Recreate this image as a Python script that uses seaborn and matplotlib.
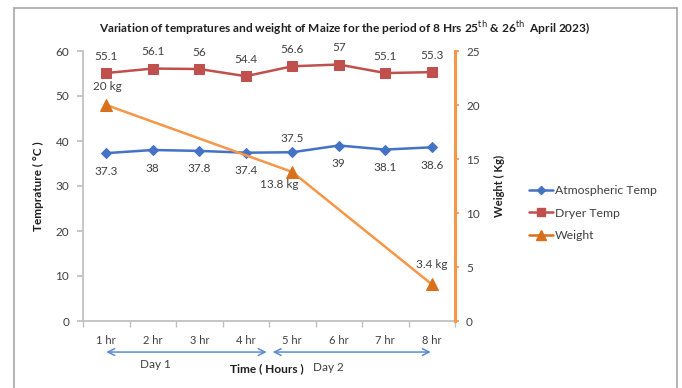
import numpy as np
import pandas as pd
import seaborn as sns
import matplotlib
matplotlib.use("Agg")
import matplotlib.pyplot as plt
from matplotlib.lines import Line2D
import matplotlib.transforms as mtransforms

# ---- data ----
hours = ["1 hr", "2 hr", "3 hr", "4 hr", "5 hr", "6 hr", "7 hr", "8 hr"]
atmospheric_temp = [37.3, 38, 37.8, 37.4, 37.5, 39, 38.1, 38.6]
dryer_temp = [55.1, 56.1, 56, 54.4, 56.6, 57, 55.1, 55.3]
weight = [20, np.nan, np.nan, np.nan, 13.8, np.nan, np.nan, 3.4]
weight_labels = ["20 kg", "", "", "", "13.8 kg", "", "", "3.4 kg"]
left_ticks = [0, 10, 20, 30, 40, 50, 60]
right_ticks = [0, 5, 10, 15, 20, 25]

sns.set_theme(style="white")
plt.rcParams["font.family"] = ["Lato", "DejaVu Sans"]

C_BLUE = "#4472C4"
C_RED = "#C0504D"
C_ORANGE = "#F79646"
C_ORANGE_D = "#D9711C"
C_TXT = "#404040"
FS = 8.5

fig = plt.figure(figsize=(6.82, 3.88), dpi=100)
ax = fig.add_axes([83 / 682, 1 - 321 / 388, (455 - 83) / 682, (321 - 51) / 388])
ax2 = ax.twinx()

pos = np.arange(len(hours))
df = pd.DataFrame({"pos": pos, "atm": atmospheric_temp, "dry": dryer_temp, "w": weight})

sns.lineplot(data=df, x="pos", y="atm", ax=ax, color=C_BLUE, marker="D", markersize=5,
             markeredgecolor=C_BLUE, linewidth=1.8)
sns.lineplot(data=df, x="pos", y="dry", ax=ax, color=C_RED, marker="s", markersize=7,
             markeredgecolor=C_RED, linewidth=1.8)
sns.lineplot(data=df.dropna(), x="pos", y="w", ax=ax2, color=C_ORANGE, marker="^",
             markersize=8, markerfacecolor=C_ORANGE_D, markeredgecolor=C_ORANGE_D, linewidth=1.8)

ax.set_xlim(-0.5, len(hours) - 0.5)
ax.set_ylim(0, 60)
ax2.set_ylim(0, 25)
ax.set_yticks(left_ticks)
ax2.set_yticks(right_ticks)
ax.set_xticks(pos)
ax.set_xticklabels(hours)
ax.set_xticks(np.arange(len(hours) + 1) - 0.5, minor=True)

for a in (ax, ax2):
    a.set_xlabel("")
    a.set_ylabel("")
    a.spines["top"].set_visible(False)
    a.grid(False)

ax.spines["left"].set_color("#BFBFBF")
ax.spines["bottom"].set_color("#BFBFBF")
ax.spines["right"].set_visible(False)
ax2.spines["left"].set_visible(False)
ax2.spines["bottom"].set_visible(False)
ax2.spines["right"].set_color(C_ORANGE)
ax2.spines["right"].set_linewidth(2.2)

ax.tick_params(axis="y", which="major", left=True, length=4, color="#BFBFBF",
               labelsize=FS, labelcolor=C_TXT, pad=6)
ax.tick_params(axis="x", which="major", bottom=False, length=0, labelsize=FS - 0.5,
               labelcolor=C_TXT, pad=10)
ax.tick_params(axis="x", which="minor", bottom=True, length=4, color="#BFBFBF")
ax2.tick_params(axis="y", right=True, length=3, color=C_ORANGE, labelsize=FS,
                labelcolor=C_TXT, pad=5)

# data labels
lab_kw = dict(textcoords="offset points", ha="center", va="center", fontsize=FS, color=C_TXT)
for i, v in enumerate(dryer_temp):
    ax.annotate(f"{v:g}", (pos[i], v), xytext=(0, 12), **lab_kw)
for i, v in enumerate(atmospheric_temp):
    off = (0, 10) if i == 4 else (0, -13)
    ax.annotate(f"{v:g}", (pos[i], v), xytext=off, **lab_kw)
w_offsets = {0: (1, 13), 4: (-9, -9), 7: (0, 14)}
for i, v in enumerate(weight):
    if not np.isnan(v):
        ax2.annotate(weight_labels[i], (pos[i], v), xytext=w_offsets[i], **lab_kw)

# axis titles
ax.set_ylabel("Temprature ( °C )", fontsize=8.5, fontweight="bold", color="#202020", labelpad=8)
ax2.set_ylabel("Weight ( Kg)", fontsize=8, fontweight="bold", color="#202020", labelpad=10)

fig.text(0.506, 1 - 28 / 388,
         r"Variation of tempratures and weight of Maize for the period of 8 Hrs 25$^{\rm th}$ & 26$^{\rm th}$  April 2023)",
         ha="center", va="center", fontsize=8.6, fontweight="bold", color="#202020")

# day arrows and labels below x axis
trans = mtransforms.blended_transform_factory(ax.transData, ax.transAxes)
arrow_kw = dict(arrowstyle="<->", color="#5B8BD0", lw=1.1, shrinkA=0, shrinkB=0)
ax.annotate("", xy=(0.0, -0.115), xytext=(3.45, -0.115), xycoords=trans, textcoords=trans,
            arrowprops=arrow_kw, annotation_clip=False)
ax.annotate("", xy=(3.58, -0.115), xytext=(6.98, -0.115), xycoords=trans, textcoords=trans,
            arrowprops=arrow_kw, annotation_clip=False)
ax.text(1.05, -0.16, "Day 1", transform=trans, ha="center", va="center", fontsize=FS, color=C_TXT)
ax.text(3.46, -0.176, "Time ( Hours )", transform=trans, ha="center", va="center",
        fontsize=8.6, fontweight="bold", color="#202020")
ax.text(4.78, -0.172, "Day 2", transform=trans, ha="center", va="center", fontsize=FS, color=C_TXT)

# legend
handles = [
    Line2D([], [], color=C_BLUE, marker="D", markersize=4, lw=1.8, label="Atmospheric Temp"),
    Line2D([], [], color=C_RED, marker="s", markersize=6, lw=1.8, label="Dryer Temp"),
    Line2D([], [], color=C_ORANGE_D, marker="^", markersize=7, lw=1.8, label="Weight"),
]
fig.legend(handles=handles, loc="center left", bbox_to_anchor=(518 / 682, 1 - 213 / 388),
           frameon=False, fontsize=FS + 0.3, labelcolor=C_TXT, handlelength=2.0,
           handletextpad=0.15, labelspacing=0.95)

# outer frame
frame_kw = dict(color="#A6A6A6", lw=1.2, transform=fig.transFigure)
fig.add_artist(Line2D([14 / 682, 677 / 682], [1 - 8 / 388, 1 - 8 / 388], **frame_kw))
fig.add_artist(Line2D([14 / 682, 14 / 682], [0, 1 - 8 / 388], **frame_kw))
fig.add_artist(Line2D([677 / 682, 677 / 682], [0, 1 - 8 / 388], **frame_kw))

fig.savefig("out.png", dpi=100)
